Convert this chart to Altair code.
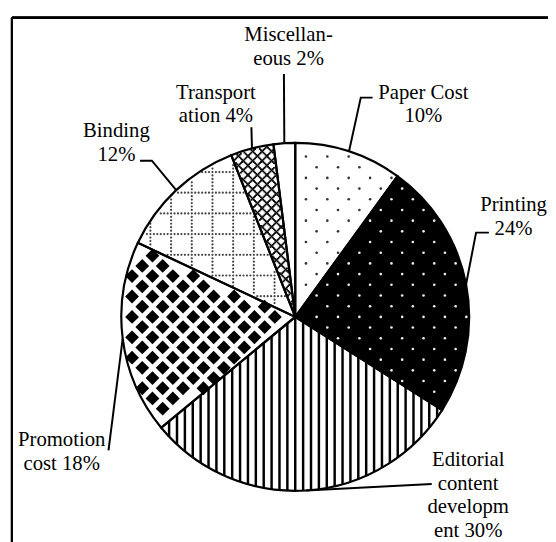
import math
import altair as alt
import pandas as pd

# ---------------- data ----------------
categories = ["Paper Cost", "Printing", "Editorial content development",
              "Promotion cost", "Binding", "Transportation", "Miscellaneous"]
values = [10, 24, 30, 18, 12, 4, 2]
label_text = ["Paper Cost\n10%", "Printing\n24%", "Editorial\ncontent\ndevelopm\nent 30%",
              "Promotion\ncost 18%", "Binding\n12%", "Transport\nation 4%", "Miscellan-\neous 2%"]
slice_fill = ["white", "black", "white", "white", "white", "white", "white"]

# ---------------- layout (pixels, relative to pie centre, y up) ----------------
W, H = 544, 528
R = 176.5
X_DOM = [-287.5, 256.5]
Y_DOM = [-224.5, 303.5]
label_pos = [(130.0, 227.5), (221.5, 113.5), (175.5, -145.5), (-237.0, -125.5),
             (-181.5, 188.5), (-80.5, 227.5), (-6.8, 285.8)]
leader_pos = [[(78.5, 222.5), (66.5, 222.5)],
              [(196.5, 85.5), (183.5, 85.5)],
              [(138.5, -169.5)],
              [(-189.5, -135.5)],
              [(-157.5, 158.5), (-145.5, 158.5)],
              [(-44.5, 192.5)],
              [(-11.5, 246.5)]]

TAU = 2 * math.pi
total = sum(values)
cum = [0]
for v in values:
    cum.append(cum[-1] + v)
ang0 = [TAU * cum[k] / total for k in range(len(values))]
ang1 = [TAU * cum[k + 1] / total for k in range(len(values))]

xs = alt.Scale(domain=X_DOM, nice=False, zero=False)
ys = alt.Scale(domain=Y_DOM, nice=False, zero=False)


def X(f):
    return alt.X(f, scale=xs, axis=None)


def Y(f):
    return alt.Y(f, scale=ys, axis=None)


def bbox(k):
    a0, a1 = ang0[k], ang1[k]
    px, py = [0.0], [0.0]
    for s in range(201):
        a = a0 + (a1 - a0) * s / 200
        px.append(R * math.sin(a))
        py.append(R * math.cos(a))
    return min(px), max(px), min(py), max(py)


def grid(k, step, margin, conds=()):
    x0, x1, y0, y1 = bbox(k)
    i0, i1 = math.floor(x0 / step), math.ceil(x1 / step)
    j0, j1 = math.floor(y0 / step), math.ceil(y1 / step)
    nx, ny = i1 - i0 + 1, j1 - j0 + 1
    a0, a1 = ang0[k], ang1[k]
    c = (alt.Chart(alt.sequence(0, nx * ny, as_="n"))
         .transform_calculate(gi=f"{i0} + datum.n % {nx}")
         .transform_calculate(gj=f"{j0} + floor(datum.n / {nx})")
         .transform_calculate(gx=f"datum.gi * {step}")
         .transform_calculate(gy=f"datum.gj * {step}")
         .transform_calculate(r="sqrt(datum.gx*datum.gx + datum.gy*datum.gy)")
         .transform_calculate(a0="atan2(datum.gx, datum.gy)")
         .transform_calculate(a="datum.a0 < 0 ? datum.a0 + 2*PI : datum.a0"))
    f = [f"datum.r < {R - margin}", f"datum.a > {a0}", f"datum.a < {a1}",
         f"datum.r * sin(datum.a - {a0}) > {margin}",
         f"datum.r * sin({a1} - datum.a) > {margin}"] + list(conds)
    return c.transform_filter(" && ".join(f))


stagger = "((datum.gi + datum.gj) % 2 + 2) % 2 == 0"

p_paper = grid(0, 10.85, 2.5, [stagger]).mark_point(
    shape="circle", filled=True, size=7, color="#333", opacity=1).encode(x=X("gx:Q"), y=Y("gy:Q"))
p_print = grid(1, 10.85, 2.5, [stagger]).mark_point(
    shape="circle", filled=True, size=7, color="#eee", opacity=1).encode(x=X("gx:Q"), y=Y("gy:Q"))
p_promo = grid(3, 10.35, 3, [stagger]).mark_point(
    shape="diamond", filled=True, size=196, color="black", opacity=1).encode(x=X("gx:Q"), y=Y("gy:Q"))
p_bind = grid(4, 3.5, 1.5, ["(((datum.gi % 6) + 6) % 6 == 0 || ((datum.gj % 6) + 6) % 6 == 0)"]).mark_point(
    shape="circle", filled=True, size=5, color="#444", opacity=1).encode(x=X("gx:Q"), y=Y("gy:Q"))
p_trans = grid(5, 1.2, 1.2, ["((((datum.gi + datum.gj) % 8) + 8) % 8 == 0 || (((datum.gi - datum.gj) % 8) + 8) % 8 == 0)"]).mark_point(
    shape="square", filled=True, size=3.5, color="black", opacity=1).encode(x=X("gx:Q"), y=Y("gy:Q"))
ea0, ea1 = ang0[2], ang1[2]
xl, xr = R * math.sin(ea1), R * math.sin(ea0)
cot0 = math.cos(ea0) / math.sin(ea0)
cot1 = math.cos(ea1) / math.sin(ea1)
p_edit = (alt.Chart(alt.sequence(math.ceil(xl / 8) * 8, xr, 8, as_="sx"))
          .transform_calculate(top=f"datum.sx >= 0 ? datum.sx * {cot0} : datum.sx * {cot1}")
          .transform_calculate(bot=f"-sqrt({R * R} - datum.sx * datum.sx)")
          .transform_filter("datum.top > datum.bot")
          .mark_rule(strokeWidth=2.5, color="black")
          .encode(x=X("sx:Q"), y=Y("top:Q"), y2="bot:Q"))

# pie
df = pd.DataFrame({"category": categories, "value": values,
                   "idx": list(range(len(categories))), "fill": slice_fill})
base = (alt.Chart(df)
        .transform_calculate(cx="0", cy="0")
        .encode(theta=alt.Theta("value:Q", stack=True), order=alt.Order("idx:Q"),
                x=X("cx:Q"), y=Y("cy:Q")))
fill_layer = base.mark_arc(outerRadius=R, strokeWidth=0).encode(fill=alt.Fill("fill:N", scale=None))
stroke_layer = base.mark_arc(outerRadius=R, fillOpacity=0, stroke="black", strokeWidth=2.2)

# leader lines
rows = []
for k, cat in enumerate(categories):
    mid = (ang0[k] + ang1[k]) / 2
    pts = leader_pos[k] + [(R * math.sin(mid), R * math.cos(mid))]
    for s, (x, y) in enumerate(pts):
        rows.append({"category": cat, "s": s, "lx": x, "ly": y})
lines = alt.Chart(pd.DataFrame(rows)).mark_line(color="black", strokeWidth=2).encode(
    x=X("lx:Q"), y=Y("ly:Q"), detail="category:N", order="s:Q")

tdf = pd.DataFrame({"label": label_text,
                    "tx": [p[0] for p in label_pos], "ty": [p[1] for p in label_pos]})
text = alt.Chart(tdf).mark_text(font="Liberation Serif", fontSize=21, lineBreak="\n",
                                lineHeight=24, align="center", baseline="middle",
                                color="black").encode(x=X("tx:Q"), y=Y("ty:Q"), text="label:N")

# frame (top and left edges of the outer border)
frame_top = alt.Chart(df).mark_rule(color="black", strokeWidth=2).encode(
    x=alt.value(0), x2=alt.value(W + 10), y=alt.value(0))
frame_left = alt.Chart(df).mark_rule(color="black", strokeWidth=2).encode(
    x=alt.value(0), y=alt.value(0), y2=alt.value(H + 10))

chart = (alt.layer(fill_layer, p_paper, p_print, p_edit, p_promo, p_bind, p_trans,
                   stroke_layer, lines, text, frame_top, frame_left)
         .properties(width=W, height=H,
                     padding={"left": 4, "top": 6, "right": 0, "bottom": 0},
                     autosize=alt.AutoSizeParams(type="none"))
         .configure_view(stroke=None))

chart.save("out.html", embed_options={"renderer": "svg", "actions": False})
